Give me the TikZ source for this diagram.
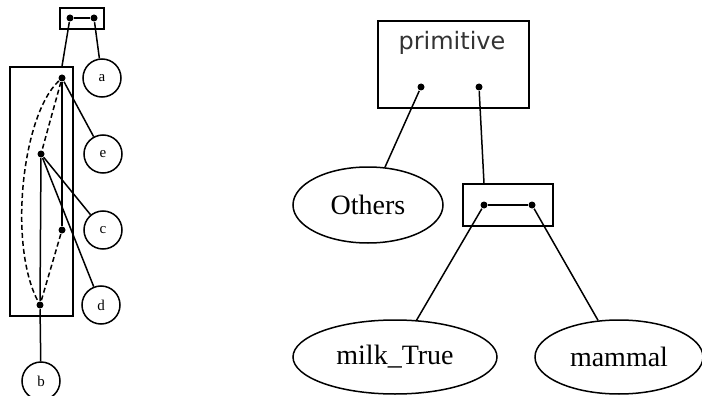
\documentclass[tikz,border=0pt]{standalone}
\usepackage{fontspec}
\usepackage{tikz}
\usepackage{xcolor}
\usetikzlibrary{shapes.geometric}
\setmainfont{Liberation Serif}
\newfontfamily\primfont{DejaVu Sans}

\begin{document}
\begin{tikzpicture}[
        x=1pt, y=-1pt,
        line width=1.5pt,
        port/.style={circle, fill=black, inner sep=0pt, minimum size=7pt},
        box/.style={draw, rectangle, inner sep=0pt},
        leaf/.style={draw, circle, inner sep=0pt, minimum size=38pt, font=\fontsize{15}{15}\selectfont},
        term/.style={draw, ellipse, inner sep=0pt, minimum height=74pt, font=\fontsize{28}{28}\selectfont},
        hidden/.style={dash pattern=on 5pt off 3pt}
    ]
        \useasboundingbox (0,0) rectangle (702,396);

        \node[box, minimum width=44pt, minimum height=21pt] (topbox) at (82,18.5) {};
        \node[box, minimum width=63pt, minimum height=249pt] (bigbox) at (41.5,191.5) {};

        \node[port] (ta) at (70,18) {};
        \node[port] (tb) at (94,18) {};
        \node[port] (p1) at (62,78) {};
        \node[port] (p2) at (41,154) {};
        \node[port] (p3) at (62,230) {};
        \node[port] (p4) at (40,305) {};

        \node[leaf] (a) at (102,78) {a};
        \node[leaf] (e) at (103,154) {e};
        \node[leaf] (c) at (103,230) {c};
        \node[leaf] (d) at (101,305) {d};
        \node[leaf] (b) at (41,381) {b};

        \draw (ta) -- (tb);
        \draw (ta) -- (p1 |- bigbox.north);
        \draw (tb) -- (a);
        \draw (p1) -- (e);
        \draw (p1) -- (p3);
        \draw[hidden] (p1) -- (p2);
        \draw[hidden] (p1) .. controls (22,115) and (8,245) .. (p4);
        \draw (p2) -- (p4);
        \draw (p2) -- (c);
        \draw (p2) -- (d);
        \draw[hidden] (p3) -- (p4);
        \draw (p4) -- (b);

        \node[box, minimum width=151pt, minimum height=87pt] (primbox) at (453.5,64.5) {};
        \node[inner sep=0pt, text=black!80, font=\primfont\fontsize{24}{24}\selectfont] (primtext) at (452,43) {primitive};
        \node[port] (q1) at (421,87) {};
        \node[port] (q2) at (479,87) {};

        \node[box, minimum width=90pt, minimum height=42pt] (smallbox) at (508,205) {};
        \node[port] (r1) at (484,205) {};
        \node[port] (r2) at (532,205) {};

        \node[term, minimum width=150pt, minimum height=76pt] (others) at (368,205) {Others};
        \node[term, minimum width=204pt] (milk) at (395,357) {milk\_True};
        \node[term, minimum width=168pt] (mammal) at (619,357) {mammal};

        \draw (q1) -- (others);
        \draw (q2) -- (r1 |- smallbox.north);
        \draw (r1) -- (r2);
        \draw (r1) -- (milk);
        \draw (r2) -- (mammal);
    \end{tikzpicture}
\end{document}
